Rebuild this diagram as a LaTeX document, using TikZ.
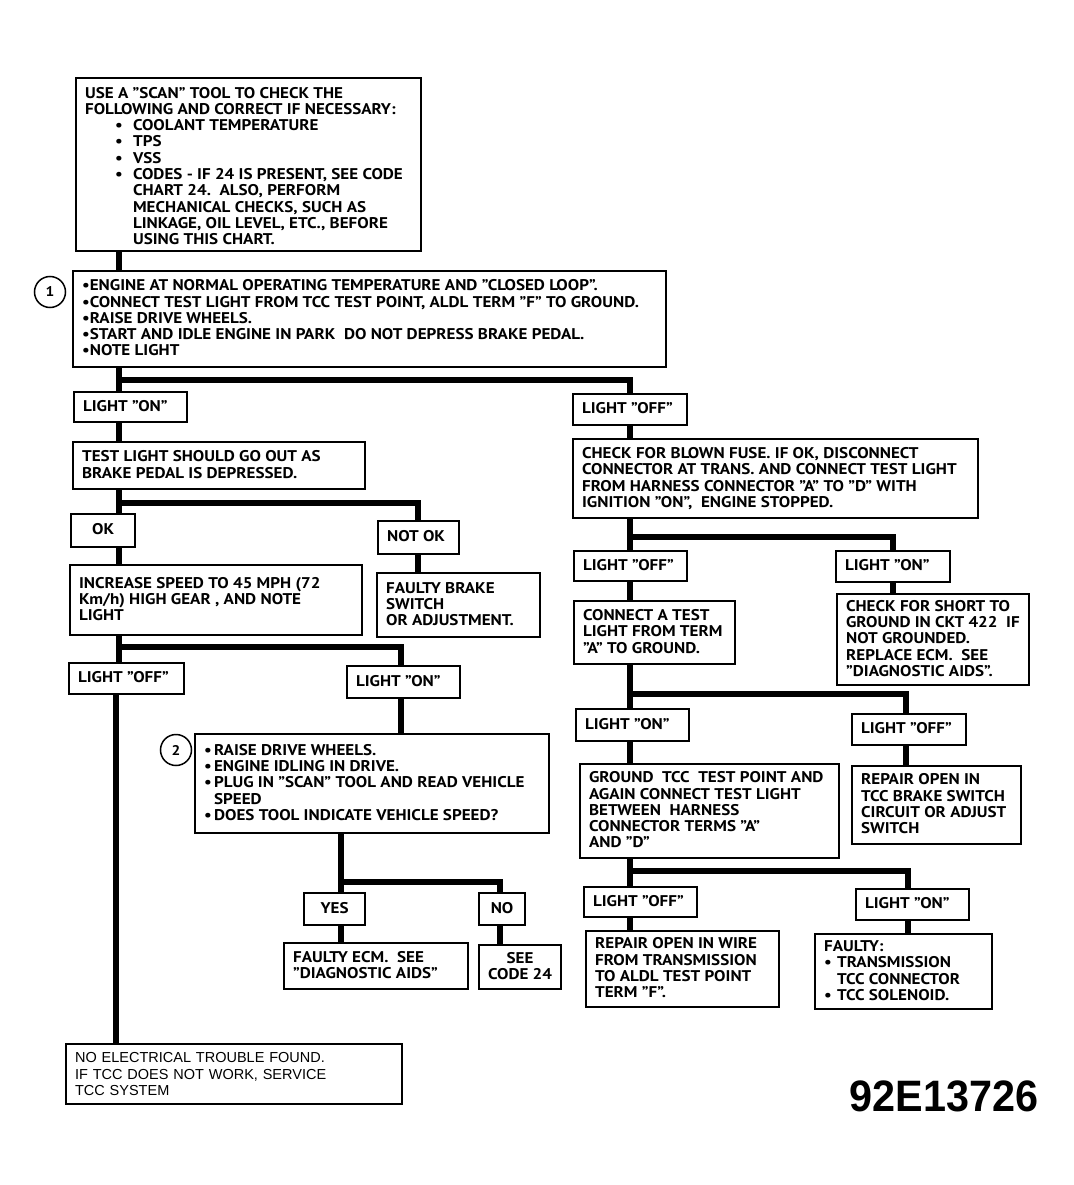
\documentclass[tikz,border=0pt]{standalone}
\usepackage{fontspec}
\setmainfont{PT Sans}[FakeStretch=1.1]
\newfontfamily\arialf{Liberation Sans}
\newcommand\mainf{\fontsize{15.5}{16.3}\selectfont\bfseries}
\tikzset{
  box/.style={draw, line width=2.2pt, rectangle, inner xsep=8pt, inner ysep=0pt,
    align=left, font=\mainf, anchor=north west},
  conn/.style={line width=5.5pt, line join=miter},
  num/.style={draw, circle, line width=1.5pt, minimum size=31pt, inner sep=0pt,
    font=\fontsize{14}{14}\selectfont\bfseries},
}
\newcommand\bxdrop{1pt}
\newcommand\bx[7][l]{%
  \pgfmathsetmacro\bw{#5-#3}\pgfmathsetmacro\bh{#6-#4}\pgfmathsetmacro\tw{#5-#3-18}%
  \node[box, minimum width=\bw pt, minimum height=\bh pt] (#2) at (#3,#4)
    {\raisebox{-\bxdrop}[\height][\depth]{\makebox[\tw pt][#1]{\begin{tabular}{@{}#1@{}}#7\end{tabular}}}};}
\newcommand\bulA{\hspace*{30pt}\makebox[18pt][l]{•}}
\newcommand\bulB{\makebox[10pt][l]{•}}
\begin{document}
\begin{tikzpicture}[x=1pt,y=-1pt]
\useasboundingbox (0,0) rectangle (1073,1185);
% ---------- boxes ----------
\renewcommand\bxdrop{3.5pt}
\bx{A}{75}{77}{420}{250}{USE A "SCAN" TOOL TO CHECK THE\\
FOLLOWING AND CORRECT IF NECESSARY:\\
\bulA COOLANT TEMPERATURE\\
\bulA TPS\\
\bulA VSS\\
\bulA CODES - IF 24 IS PRESENT, SEE CODE\\
\hspace*{48pt}CHART 24.\ \ ALSO, PERFORM\\
\hspace*{48pt}MECHANICAL CHECKS, SUCH AS\\
\hspace*{48pt}LINKAGE, OIL LEVEL, ETC., BEFORE\\
\hspace*{48pt}USING THIS CHART.}
\renewcommand\bxdrop{1pt}
\bx{B}{72}{270}{665}{366}{•ENGINE AT NORMAL OPERATING TEMPERATURE AND "CLOSED LOOP".\\
•CONNECT TEST LIGHT FROM TCC TEST POINT, ALDL TERM "F" TO GROUND.\\
•RAISE DRIVE WHEELS.\\
•START AND IDLE ENGINE IN PARK\ \ DO NOT DEPRESS BRAKE PEDAL.\\
•NOTE LIGHT}
\node[num] (c1) at (50,292) {1};
% left column
\bx{LON1}{73}{391}{186}{421}{LIGHT "ON"}
\bx{TEST}{72}{441}{364}{488}{TEST LIGHT SHOULD GO OUT AS\\BRAKE PEDAL IS DEPRESSED.}
\bx[c]{OK}{70}{513}{134}{546}{OK}
\bx{NOTOK}{377}{520}{458}{553}{NOT OK}
\bx{FB}{376}{572}{539}{636}{FAULTY BRAKE\\SWITCH\\OR ADJUSTMENT.}
\bx{INC}{69}{564}{361}{634}{INCREASE SPEED TO 45 MPH (72\\Km/h) HIGH GEAR , AND NOTE\\LIGHT}
\bx{LOFF1}{68}{662}{183}{693}{LIGHT "OFF"}
\bx{LON2}{346}{665}{459}{697}{LIGHT "ON"}
\bx{B2}{194}{733}{548}{832}{\bulB RAISE DRIVE WHEELS.\\
\bulB ENGINE IDLING IN DRIVE.\\
\bulB PLUG IN "SCAN" TOOL AND READ VEHICLE\\
\hspace*{10pt}SPEED\\
\bulB DOES TOOL INDICATE VEHICLE SPEED?}
\node[num] (c2) at (176,750) {2};
\bx[c]{YES}{303}{892}{364}{924}{YES}
\bx[c]{NO}{478}{892}{524}{924}{NO}
\bx{ECM}{283}{942}{467}{988}{FAULTY ECM.\ \ SEE\\"DIAGNOSTIC AIDS"}
\bx[c]{C24}{478}{944}{560}{988}{SEE\\CODE 24}
\node[box, minimum width=336pt, minimum height=60pt, text width=318pt,
  font=\arialf\fontsize{14.5}{16.2}\selectfont] (NOEL) at (65,1043)
  {NO ELECTRICAL TROUBLE FOUND.\\IF TCC DOES NOT WORK, SERVICE\\TCC SYSTEM};
% right column
\bx{ROFF1}{572}{393}{686}{424}{LIGHT "OFF"}
\bx{FUSE}{572}{438}{977}{517}{CHECK FOR BLOWN FUSE. IF OK, DISCONNECT\\
CONNECTOR AT TRANS. AND CONNECT TEST LIGHT\\
FROM HARNESS CONNECTOR "A" TO "D" WITH\\
IGNITION "ON",\ \ ENGINE STOPPED.}
\bx{ROFF2}{573}{550}{686}{580}{LIGHT "OFF"}
\bx{RON1}{835}{550}{949}{581}{LIGHT "ON"}
\bx{CT}{573}{600}{734}{663}{CONNECT A TEST\\LIGHT FROM TERM\\"A" TO GROUND.}
\bx{SHORT}{836}{593}{1028}{684}{CHECK FOR SHORT TO\\GROUND IN CKT 422\ \ IF\\NOT GROUNDED.\\REPLACE ECM.\ \ SEE\\"DIAGNOSTIC AIDS".}
\bx{RON2}{575}{708}{688}{740}{LIGHT "ON"}
\bx{ROFF3}{851}{713}{965}{744}{LIGHT "OFF"}
\bx{RTCC}{851}{765}{1020}{843}{REPAIR OPEN IN\\TCC BRAKE SWITCH\\CIRCUIT OR ADJUST\\SWITCH}
\bx{GND}{579}{763}{838}{857}{GROUND\ \ TCC\ \ TEST POINT AND\\AGAIN CONNECT TEST LIGHT\\BETWEEN\ \ HARNESS\\CONNECTOR TERMS "A"\\AND "D"}
\bx{ROFF4}{583}{886}{696}{916}{LIGHT "OFF"}
\bx{RON3}{855}{888}{968}{919}{LIGHT "ON"}
\bx{RW}{585}{930}{778}{1006}{REPAIR OPEN IN WIRE\\FROM TRANSMISSION\\TO ALDL TEST POINT\\TERM "F".}
\bx{FLT}{814}{933}{991}{1008}{FAULTY:\\
\makebox[13pt][l]{•}TRANSMISSION\\
\hspace*{13pt}TCC CONNECTOR\\
\makebox[13pt][l]{•}TCC SOLENOID.}
\node[font=\arialf\bfseries\fontsize{44}{44}\selectfont, inner sep=0pt] (id) at (944,1096) {\scalebox{0.94}[1]{92E13726}};
% ---------- connector guide coordinates ----------
\coordinate (xa) at (119,0);
\coordinate (xl) at (116,0);
\coordinate (xn) at (418,0);
\coordinate (xm) at (401,0);
\coordinate (xy) at (341,0);
\coordinate (xo) at (500,0);
\coordinate (xr) at (630,0);
\coordinate (xs) at (893,0);
\coordinate (xt) at (906,0);
\coordinate (xu) at (908,0);
\coordinate (jB) at (0,380);
\coordinate (jT) at (0,503);
\coordinate (jI) at (0,647);
\coordinate (j2) at (0,882);
\coordinate (jR1) at (0,537);
\coordinate (jR2) at (0,694);
\coordinate (jR3) at (0,871);
% ---------- connectors ----------
\draw[conn] (A.south -| xa) -- (B.north -| xa);
\draw[conn] (B.south -| xa) -- (LON1.north -| xa);
\draw[conn] (xa |- jB) -| (ROFF1.north -| xr);
\draw[conn] (LON1.south -| xa) -- (TEST.north -| xa);
\draw[conn] (TEST.south -| xa) -- (OK.north -| xa);
\draw[conn] (xa |- jT) -| (NOTOK.north -| xn);
\draw[conn] (NOTOK.south -| xn) -- (FB.north -| xn);
\draw[conn] (OK.south -| xa) -- (INC.north -| xa);
\draw[conn] (INC.south -| xa) -- (LOFF1.north -| xa);
\draw[conn] (xa |- jI) -| (LON2.north -| xm);
\draw[conn] (LOFF1.south -| xl) -- (NOEL.north -| xl);
\draw[conn] (LON2.south -| xm) -- (B2.north -| xm);
\draw[conn] (B2.south -| xy) -- (YES.north -| xy);
\draw[conn] (xy |- j2) -| (NO.north -| xo);
\draw[conn] (YES.south -| xy) -- (ECM.north -| xy);
\draw[conn] (NO.south -| xo) -- (C24.north -| xo);
\draw[conn] (ROFF1.south -| xr) -- (FUSE.north -| xr);
\draw[conn] (FUSE.south -| xr) -- (ROFF2.north -| xr);
\draw[conn] (xr |- jR1) -| (RON1.north -| xs);
\draw[conn] (RON1.south -| xs) -- (SHORT.north -| xs);
\draw[conn] (ROFF2.south -| xr) -- (CT.north -| xr);
\draw[conn] (CT.south -| xr) -- (RON2.north -| xr);
\draw[conn] (xr |- jR2) -| (ROFF3.north -| xt);
\draw[conn] (ROFF3.south -| xt) -- (RTCC.north -| xt);
\draw[conn] (RON2.south -| xr) -- (GND.north -| xr);
\draw[conn] (GND.south -| xr) -- (ROFF4.north -| xr);
\draw[conn] (xr |- jR3) -| (RON3.north -| xu);
\draw[conn] (ROFF4.south -| xr) -- (RW.north -| xr);
\draw[conn] (RON3.south -| xu) -- (FLT.north -| xu);
\end{tikzpicture}
\end{document}
